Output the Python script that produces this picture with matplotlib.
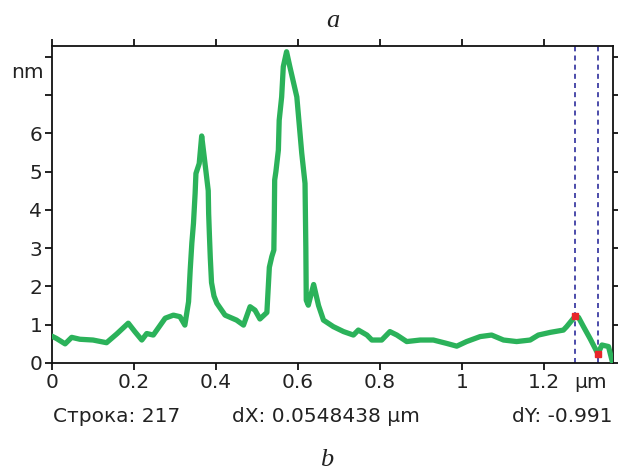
import matplotlib
matplotlib.use("Agg")
import matplotlib.pyplot as plt
import numpy as np

# Height profile along the scan line (µm, nm)
profile_x = [0.000, 0.011, 0.032, 0.048, 0.068, 0.100, 0.133, 0.158, 0.186, 0.202,
             0.219, 0.231, 0.247, 0.276, 0.296, 0.312, 0.324, 0.333, 0.337, 0.341,
             0.345, 0.349, 0.351, 0.359, 0.365, 0.371, 0.377, 0.381, 0.382, 0.384,
             0.386, 0.389, 0.395, 0.402, 0.422, 0.450, 0.467, 0.483, 0.495, 0.507,
             0.524, 0.530, 0.536, 0.541, 0.542, 0.543, 0.546, 0.552, 0.554, 0.560,
             0.564, 0.572, 0.580, 0.597, 0.609, 0.617, 0.619, 0.620, 0.625, 0.638,
             0.650, 0.662, 0.686, 0.711, 0.735, 0.747, 0.768, 0.780, 0.804, 0.824,
             0.841, 0.865, 0.898, 0.930, 0.963, 0.987, 1.011, 1.044, 1.072, 1.101,
             1.133, 1.166, 1.186, 1.215, 1.247, 1.255, 1.2765, 1.284, 1.296, 1.312,
             1.3313, 1.341, 1.357, 1.366]
profile_y = [0.70, 0.64, 0.50, 0.67, 0.62, 0.60, 0.53, 0.76, 1.04, 0.82,
             0.60, 0.77, 0.73, 1.17, 1.25, 1.21, 0.99, 1.60, 2.43, 3.13,
             3.65, 4.43, 4.95, 5.21, 5.93, 5.40, 4.86, 4.50, 3.90, 3.30,
             2.75, 2.10, 1.75, 1.56, 1.25, 1.12, 0.99, 1.47, 1.38, 1.15,
             1.32, 2.50, 2.78, 2.95, 3.73, 4.78, 5.00, 5.56, 6.34, 6.95,
             7.74, 8.13, 7.74, 6.95, 5.48, 4.69, 3.00, 1.64, 1.51, 2.05,
             1.50, 1.12, 0.95, 0.82, 0.73, 0.86, 0.73, 0.60, 0.60, 0.82,
             0.73, 0.56, 0.60, 0.60, 0.51, 0.44, 0.56, 0.69, 0.73, 0.60,
             0.56, 0.60, 0.73, 0.80, 0.86, 0.95, 1.23, 1.19, 0.95, 0.64,
             0.239, 0.47, 0.43, 0.05]

# Measurement cursors
cursor_x = [1.2765, 1.3313438]
cursor_y = [1.23, 0.239]
scan_row = 217

x_ticks = [0, 0.2, 0.4, 0.6, 0.8, 1.0, 1.2]
x_tick_labels = ["0", "0.2", "0.4", "0.6", "0.8", "1", "1.2"]
y_ticks = [0, 1, 2, 3, 4, 5, 6, 7, 8]
y_tick_labels = ["0", "1", "2", "3", "4", "5", "6", "", ""]

W, H = 618, 472
fig = plt.figure(figsize=(W / 100, H / 100), dpi=100)
ax = fig.add_axes([52 / W, 1 - 363 / H, (613 - 52) / W, (363 - 46) / H])

green = "#2bb25a"
ax.plot(profile_x, profile_y, color=green, lw=3.8, solid_joinstyle="round",
        solid_capstyle="round", zorder=3)

for cx in cursor_x:
    ax.axvline(cx, color="#2e2e9c", lw=1.2, ls=(0, (3, 2.5)), zorder=2)
ax.plot(cursor_x, cursor_y, ls="none", marker="s", ms=4.5, color="#e8262a",
        mec="#e8262a", zorder=4)

ax.set_xlim(0, 1.368)
ax.set_ylim(0, 8.28)
ax.set_xticks(x_ticks)
ax.set_xticklabels(x_tick_labels)
ax.set_yticks(y_ticks)
ax.set_yticklabels(y_tick_labels)

for side in ["top", "bottom", "left", "right"]:
    ax.spines[side].set_linewidth(1.3)
    ax.spines[side].set_color("#111111")

ax.tick_params(axis="both", direction="out", length=5, width=1.3, color="#111111",
               labelsize=14.5, labelcolor="#222222")
ax.tick_params(axis="x", top=True, pad=2)
ax.tick_params(axis="y", right=True, pad=2)

# Axis units
ax.text(-0.015, 7.6, "nm", transform=ax.get_yaxis_transform(), ha="right",
        va="center", fontsize=14.5, color="#222222")
ax.text(591 / W, 1 - 383 / H, "µm", transform=fig.transFigure, ha="center",
        va="center", fontsize=14.5, color="#222222")

# Cursor readout line
dx = cursor_x[1] - cursor_x[0]
dy = cursor_y[1] - cursor_y[0]
fig.text(53 / W, 1 - 417 / H, f"Строка: {scan_row}", ha="left", va="center",
         fontsize=14.5, color="#222222")
fig.text(232 / W, 1 - 417 / H, f"dX: {dx:.7f} µm", ha="left", va="center",
         fontsize=14.5, color="#222222")
fig.text(612 / W, 1 - 417 / H, f"dY: {dy:.3f}", ha="right", va="center",
         fontsize=14.5, color="#222222")

# Panel letters
fig.text(333 / W, 1 - 21 / H, "a", ha="center", va="center", fontsize=19,
         family="Liberation Serif", style="italic", color="#222222")
fig.text(327 / W, 1 - 460 / H, "b", ha="center", va="center", fontsize=19,
         family="Liberation Serif", style="italic", color="#222222")

fig.savefig("out.png", dpi=100)
